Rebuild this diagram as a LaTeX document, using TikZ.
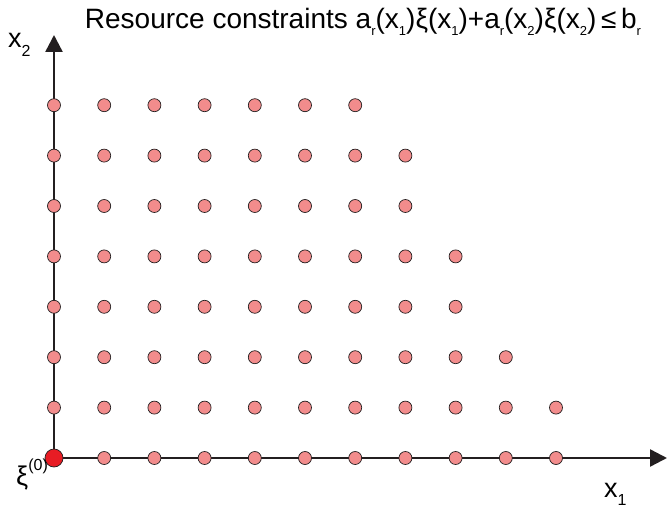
\documentclass[tikz,border=0pt]{standalone}
\usepackage{fontspec}
\setmainfont{Liberation Sans}
\usetikzlibrary{arrows.meta}
\usetikzlibrary{positioning}
\definecolor{dotpink}{RGB}{242,140,140}
\definecolor{dotred}{RGB}{232,28,36}
\definecolor{axisgray}{RGB}{35,31,32}
\newcommand{\lo}[1]{\raisebox{-0.22em}{\fontsize{13}{13}\selectfont #1}}
\newcommand{\axlo}[1]{\raisebox{-0.3em}{\fontsize{16}{16}\selectfont #1}}
\newcommand{\hi}[1]{\raisebox{0.55em}{\fontsize{16}{16}\selectfont #1}}
\tikzset{
    x=1pt, y=1pt,
    grid dot/.style={
        circle,
        draw=axisgray,
        line width=0.7pt,
        fill=dotpink,
        minimum size=13pt,
        inner sep=0pt
    },
    origin dot/.style={
        grid dot,
        fill=dotred,
        minimum size=18pt
    },
    axis/.style={
        draw=axisgray,
        line width=2.4pt,
        -{Triangle[length=17pt,width=17pt]}
    },
    label text/.style={
        font=\fontsize{27}{30}\selectfont,
        inner sep=0pt
    }
}

\begin{document}
\begin{tikzpicture}
    \useasboundingbox (0,0) rectangle (669,507);

    \coordinate (o) at (54,49);
    \coordinate (xend) at (667,49);
    \coordinate (yend) at (54,472);

    % axes
    \draw[axis] (o) -- (xend);
    \draw[axis] (o) -- (yend);

    % feasible points
    \foreach \j/\n in {0/10,1/10,2/9,3/8,4/8,5/7,6/7,7/6} {
        \foreach \i in {0,...,\n} {
            \ifnum\i\j=00\else
                \node[grid dot] (p-\i-\j) at ({54+50.2*\i},{49+50.4*\j}) {};
            \fi
        }
    }
    \node[origin dot] (p-0-0) at (o) {};

    % labels
    \node[label text, anchor=base, font=\fontsize{28}{30}\selectfont] (title) at (363,478) {Resource constraints a\lo{r}(x\lo{1})ξ(x\lo{1})+a\lo{r}(x\lo{2})ξ(x\lo{2})\,≤\,b\lo{r}};
    \node[label text, anchor=base west] (xtwo) at (8,459) {x\axlo{2}};
    \node[label text, anchor=base west] (xone) at (604,10) {x\axlo{1}};
    \node[label text, anchor=base west] (xizero) at (16,22) {ξ\hi{(0)}};
\end{tikzpicture}
\end{document}
